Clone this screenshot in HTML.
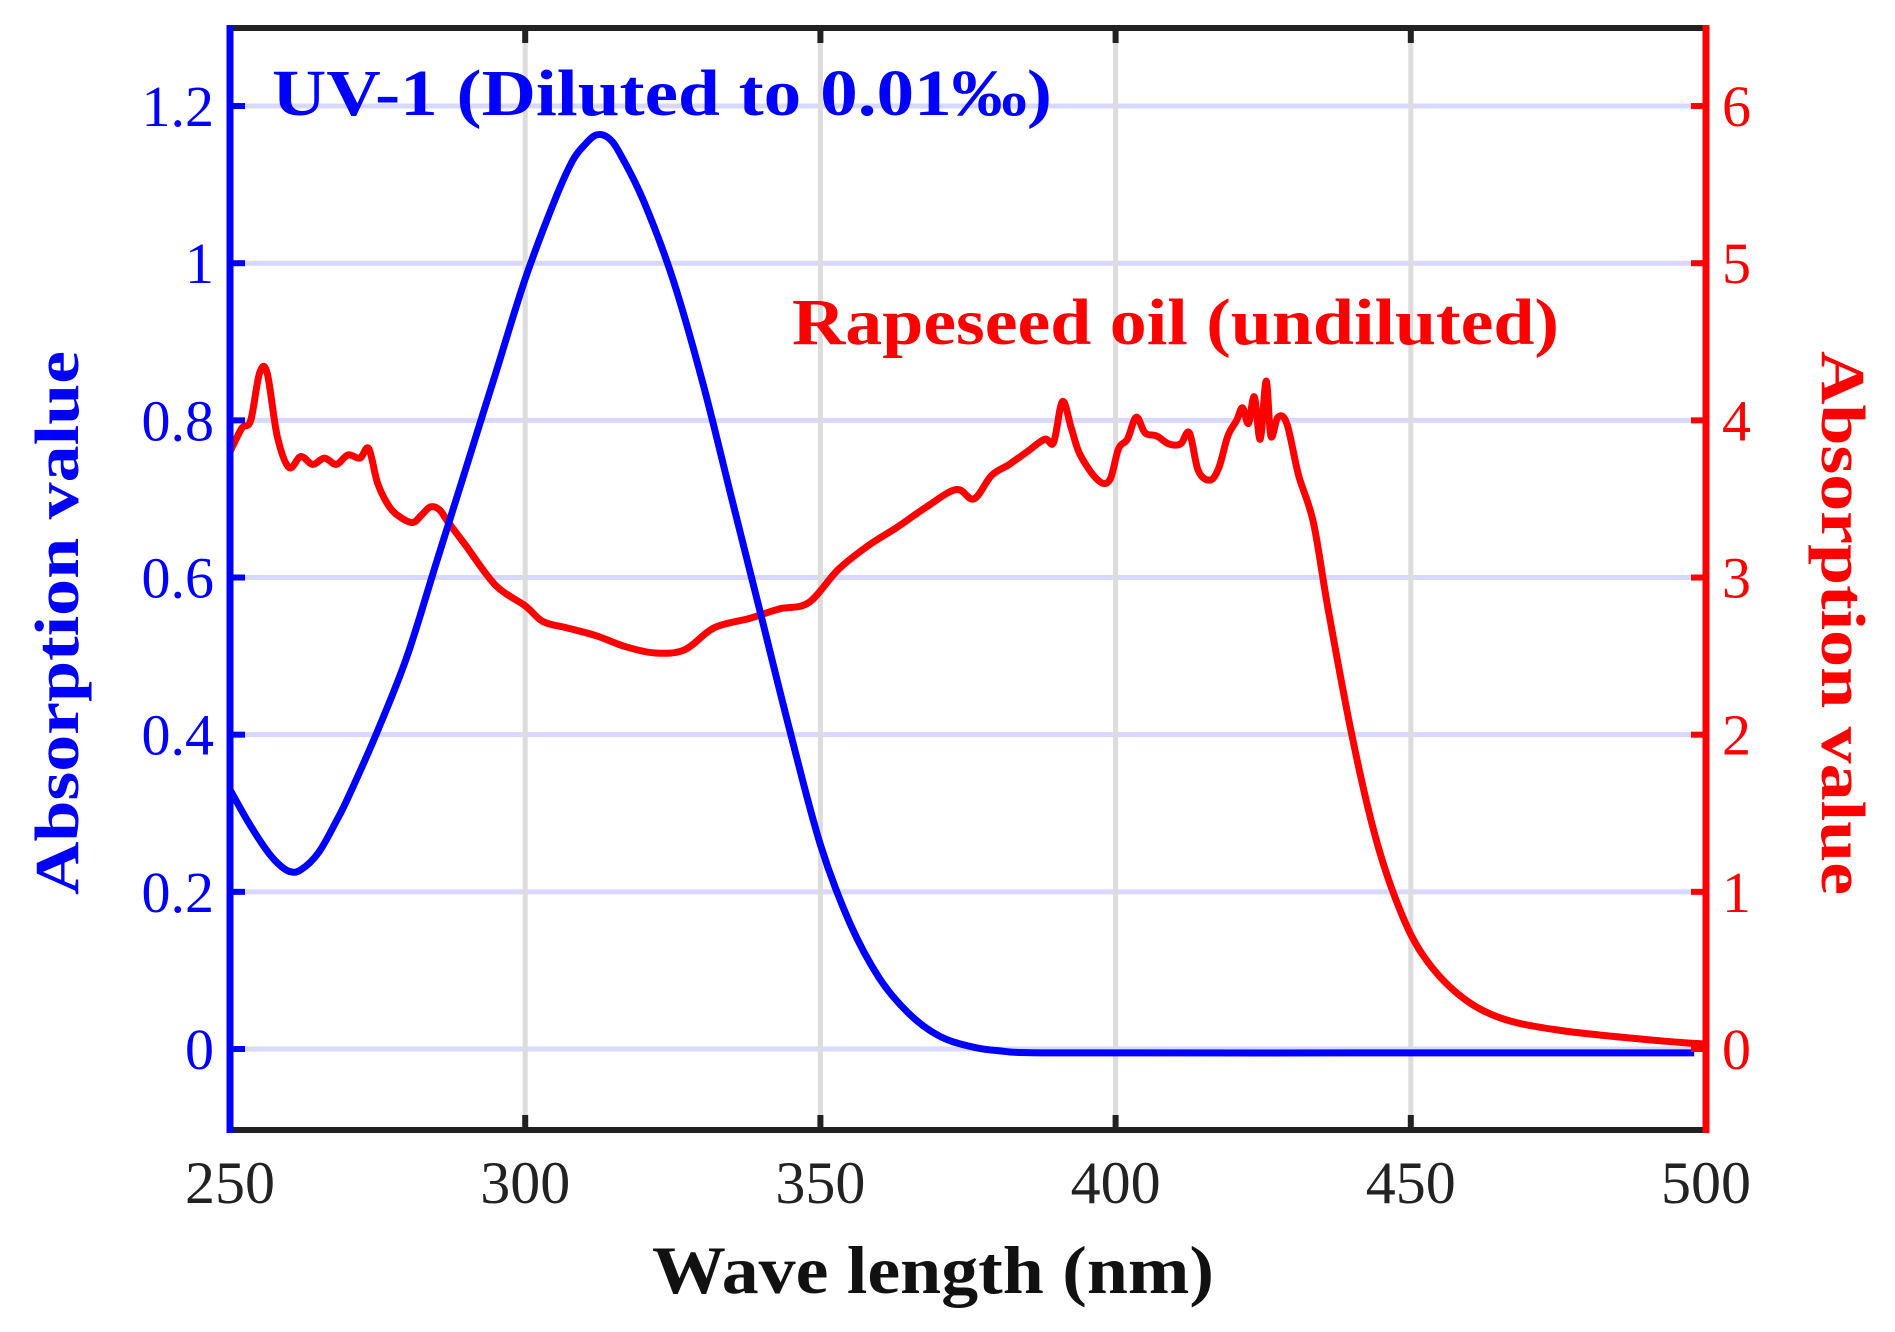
<!DOCTYPE html>
<html><head><meta charset="utf-8"><style>
html,body{margin:0;padding:0;background:#fff;}
svg{display:block;}
text{font-family:"Liberation Serif",serif;}
</style></head><body>
<svg id="s" width="1895" height="1332" viewBox="0 0 1895 1332" xmlns="http://www.w3.org/2000/svg">
<g id="grid"></g>
<path id="red" fill="none" stroke="#ff0000" stroke-width="7" stroke-linejoin="round"/>
<path id="blue" fill="none" stroke="#0000ff" stroke-width="7" stroke-linejoin="round"/>
<g id="axes"></g>
<text x="272" y="115" font-size="66" font-weight="bold" fill="#0000ff" textLength="780" lengthAdjust="spacingAndGlyphs">UV-1 (Diluted to 0.01‰)</text>
<text x="792" y="344" font-size="66" font-weight="bold" fill="#ff0000" textLength="767" lengthAdjust="spacingAndGlyphs">Rapeseed oil (undiluted)</text>
<text x="933" y="1293" font-size="68" font-weight="bold" fill="#111" text-anchor="middle" textLength="562" lengthAdjust="spacingAndGlyphs">Wave length (nm)</text>
<text transform="translate(78,623) rotate(-90)" font-size="62" font-weight="bold" fill="#0000ff" text-anchor="middle" textLength="544" lengthAdjust="spacingAndGlyphs">Absorption value</text>
<text transform="translate(1822,623) rotate(90)" font-size="62" font-weight="bold" fill="#ff0000" text-anchor="middle" textLength="544" lengthAdjust="spacingAndGlyphs">Absorption value</text>
</svg>
<script>
var L=230,R=1706,T=28,B=1130;
function X(n){return L+(n-250)*(R-L)/250;}
function Y(v){return 1049-v*785.8;}
var NS="http://www.w3.org/2000/svg";
function el(p,tag,a,txt){var e=document.createElementNS(NS,tag);for(var k in a)e.setAttribute(k,a[k]);if(txt!==undefined)e.textContent=txt;document.getElementById(p).appendChild(e);return e;}
[0,0.2,0.4,0.6,0.8,1,1.2].forEach(function(v){el('grid','line',{x1:L,x2:R,y1:Y(v),y2:Y(v),stroke:'#d8d8ff','stroke-width':5});});
[300,350,400,450].forEach(function(n){el('grid','line',{x1:X(n),x2:X(n),y1:T,y2:B,stroke:'#dcdcdc','stroke-width':5});});
var bl=[[250,.33],[253,.29],[256,.255],[258,.237],[260,.226],[262,.228],[265,.25],[268,.29],[270,.32],[275,.405],[280,.5],[285,.62],[290,.74],[295,.86],[300,.98],[305,1.08],[308,1.13],[310,1.15],[312,1.163],[314,1.16],[316,1.14],[320,1.08],[325,.98],[330,.85],[335,.70],[340,.55],[345,.40],[350,.26],[355,.16],[360,.09],[365,.045],[370,.017],[375,.004],[380,-.002],[390,-.005],[440,-.005],[498,-.005]];
var rd=[[250,3.8],[252,3.95],[253.5,4.0],[255,4.3],[256.3,4.3],[258,3.9],[260,3.7],[262,3.77],[264,3.72],[266,3.76],[268,3.72],[270,3.78],[272,3.76],[273.5,3.82],[275,3.6],[277,3.45],[279,3.38],[281,3.35],[282.5,3.4],[284,3.45],[285.5,3.43],[287,3.35],[290,3.2],[295,2.95],[300,2.82],[303,2.72],[307,2.68],[312,2.63],[317,2.56],[322,2.52],[327,2.54],[332,2.68],[338,2.74],[343,2.8],[348,2.84],[353,3.05],[358,3.2],[363,3.32],[368,3.45],[373,3.56],[376,3.5],[379,3.65],[382,3.72],[385,3.8],[388,3.88],[389.5,3.86],[391,4.12],[392.5,3.95],[394,3.78],[397,3.62],[399,3.62],[400.5,3.82],[402,3.88],[403.5,4.02],[405,3.92],[407,3.9],[409,3.85],[411,3.85],[412.5,3.92],[414,3.68],[416,3.62],[417.5,3.7],[419,3.9],[420.5,4.0],[421.5,4.08],[422.5,3.98],[423.5,4.15],[424.5,3.88],[425.5,4.25],[426.3,3.9],[427.5,4.02],[429,3.98],[431,3.65],[433.5,3.35],[436,2.8],[440,2.0],[444,1.35],[448,0.9],[452,0.6],[458,0.35],[465,0.2],[475,0.12],[490,0.06],[500,0.03]];
function path(a,f){
 var p=a.map(function(q){return [X(q[0]),Y(f*q[1])];});
 var d='M'+p[0][0].toFixed(1)+' '+p[0][1].toFixed(1);
 for(var i=0;i<p.length-1;i++){
  var p0=p[Math.max(0,i-1)],p1=p[i],p2=p[i+1],p3=p[Math.min(p.length-1,i+2)];
  var c1=[p1[0]+(p2[0]-p0[0])/6,p1[1]+(p2[1]-p0[1])/6];
  var c2=[p2[0]-(p3[0]-p1[0])/6,p2[1]-(p3[1]-p1[1])/6];
  d+=' C'+c1[0].toFixed(1)+' '+c1[1].toFixed(1)+' '+c2[0].toFixed(1)+' '+c2[1].toFixed(1)+' '+p2[0].toFixed(1)+' '+p2[1].toFixed(1);
 }
 return d;}
document.getElementById('blue').setAttribute('d',path(bl,1));
document.getElementById('red').setAttribute('d',path(rd,0.2));
el('axes','line',{x1:L,x2:R,y1:T,y2:T,stroke:'#222','stroke-width':6});
el('axes','line',{x1:L,x2:R,y1:B,y2:B,stroke:'#222','stroke-width':6});
[250,300,350,400,450,500].forEach(function(n){
 el('axes','line',{x1:X(n),x2:X(n),y1:T,y2:T+15,stroke:'#222','stroke-width':6});
 el('axes','line',{x1:X(n),x2:X(n),y1:B,y2:B-15,stroke:'#222','stroke-width':6});
 el('axes','text',{x:X(n),y:1203,'font-size':60,fill:'#222','text-anchor':'middle'},String(n));
});
el('axes','line',{x1:L,x2:L,y1:T-3,y2:B+3,stroke:'#0000ff','stroke-width':7});
el('axes','line',{x1:R,x2:R,y1:T-3,y2:B+3,stroke:'#ff0000','stroke-width':7});
['0','0.2','0.4','0.6','0.8','1','1.2'].forEach(function(s,i){
 var y=Y(i*0.2);
 el('axes','line',{x1:L,x2:L+15,y1:y,y2:y,stroke:'#0000ff','stroke-width':6});
 el('axes','text',{x:214,y:y+20,'font-size':58,fill:'#0000ff','text-anchor':'end'},s);
 el('axes','line',{x1:R,x2:R-15,y1:y,y2:y,stroke:'#ff0000','stroke-width':6});
 el('axes','text',{x:1722,y:y+20,'font-size':58,fill:'#ff0000'},String(i));
});
</script>
</body></html>
